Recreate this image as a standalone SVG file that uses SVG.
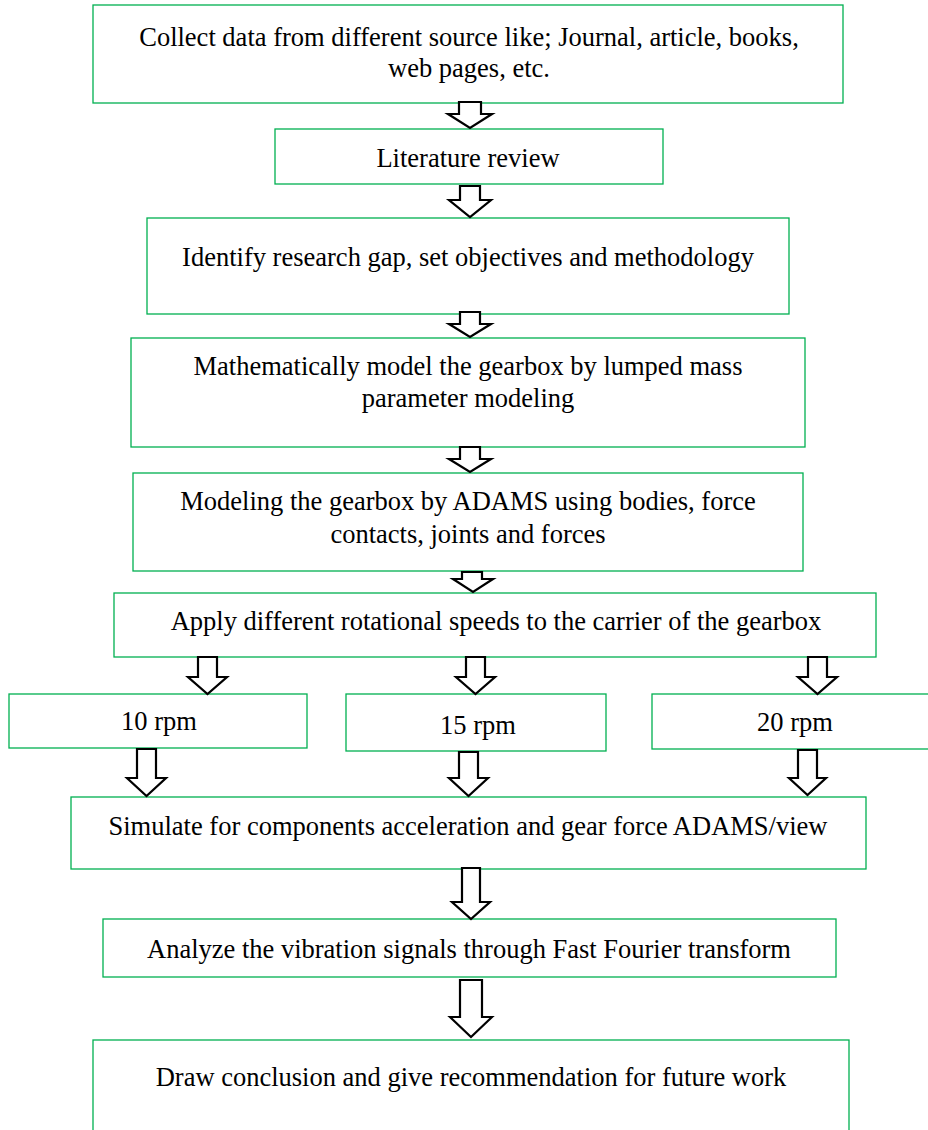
<svg xmlns="http://www.w3.org/2000/svg" width="928" height="1130" viewBox="0 0 928 1130">
<style>
.box{fill:#fff;stroke:#00b050;stroke-width:1.3}
.arr{fill:#fff;stroke:#000;stroke-width:2.2;stroke-linejoin:miter}
</style>
<g font-family="Liberation Serif" font-size="26.5" fill="#000" text-anchor="middle">
<g id="n1"><rect class="box" x="93" y="5" width="750" height="98"/><text font-family="Liberation Serif" x="469" y="46">Collect data from different source like; Journal, article, books,</text><text font-family="Liberation Serif" x="469" y="77">web pages, etc.</text></g>
<g id="n2"><rect class="box" x="275" y="129" width="388" height="55"/><text font-family="Liberation Serif" x="468" y="167">Literature review</text></g>
<g id="n3"><rect class="box" x="147" y="218" width="642" height="96"/><text font-family="Liberation Serif" x="468" y="266">Identify research gap, set objectives and methodology</text></g>
<g id="n4"><rect class="box" x="131" y="338" width="674" height="109"/><text font-family="Liberation Serif" x="468" y="375">Mathematically model the gearbox by lumped mass</text><text font-family="Liberation Serif" x="468" y="407">parameter modeling</text></g>
<g id="n5"><rect class="box" x="133" y="473" width="670" height="98"/><text font-family="Liberation Serif" x="468" y="510">Modeling the gearbox by ADAMS using bodies, force</text><text font-family="Liberation Serif" x="468" y="543">contacts, joints and forces</text></g>
<g id="n6"><rect class="box" x="114" y="593" width="762" height="64"/><text font-family="Liberation Serif" x="496" y="630">Apply different rotational speeds to the carrier of the gearbox</text></g>
<g id="n7a"><rect class="box" x="9" y="694" width="298" height="54"/><text font-family="Liberation Serif" x="159" y="730">10 rpm</text></g>
<g id="n7b"><rect class="box" x="346" y="694" width="260" height="57"/><text font-family="Liberation Serif" x="478" y="734">15 rpm</text></g>
<g id="n7c"><rect class="box" x="652" y="694" width="280" height="55"/><text font-family="Liberation Serif" x="795" y="731">20 rpm</text></g>
<g id="n8"><rect class="box" x="71" y="797" width="795" height="72"/><text font-family="Liberation Serif" x="468" y="835">Simulate for components acceleration and gear force ADAMS/view</text></g>
<g id="n9"><rect class="box" x="103" y="919" width="733" height="58"/><text font-family="Liberation Serif" x="469" y="958">Analyze the vibration signals through Fast Fourier transform</text></g>
<g id="n10"><rect class="box" x="93" y="1040" width="756" height="100"/><text font-family="Liberation Serif" x="471" y="1086">Draw conclusion and give recommendation for future work</text></g>
</g>
<g id="connectors">
<path class="arr" d="M459,102 H481 V114 H492 L470,128 L448,114 H459 Z"/>
<path class="arr" d="M460,186 H480 V200 H491 L470,217 L449,200 H460 Z"/>
<path class="arr" d="M460,312 H480 V324 H491 L470,337 L449,324 H460 Z"/>
<path class="arr" d="M460,447 H480 V459 H491 L470,472 L449,459 H460 Z"/>
<path class="arr" d="M462,572 H482 V579 H493 L473,592 L453,579 H462 Z"/>
<path class="arr" d="M198,657 H217 V677 H227 L207.5,694 L188,677 H198 Z"/>
<path class="arr" d="M466,657 H485 V677 H495 L475.5,694 L456,677 H466 Z"/>
<path class="arr" d="M808,657 H827 V677 H837 L817.5,694 L798,677 H808 Z"/>
<path class="arr" d="M137,749 H156 V778 H166 L146.5,796 L127,778 H137 Z"/>
<path class="arr" d="M459,752 H478 V778 H488 L468.5,796 L449,778 H459 Z"/>
<path class="arr" d="M798,750 H817 V778 H826 L807.5,795 L789,778 H798 Z"/>
<path class="arr" d="M462,868 H480 V902 H490 L471,919 L452,902 H462 Z"/>
<path class="arr" d="M460,980 H482 V1017 H492 L471,1037 L450,1017 H460 Z"/>
</g>
</svg>
